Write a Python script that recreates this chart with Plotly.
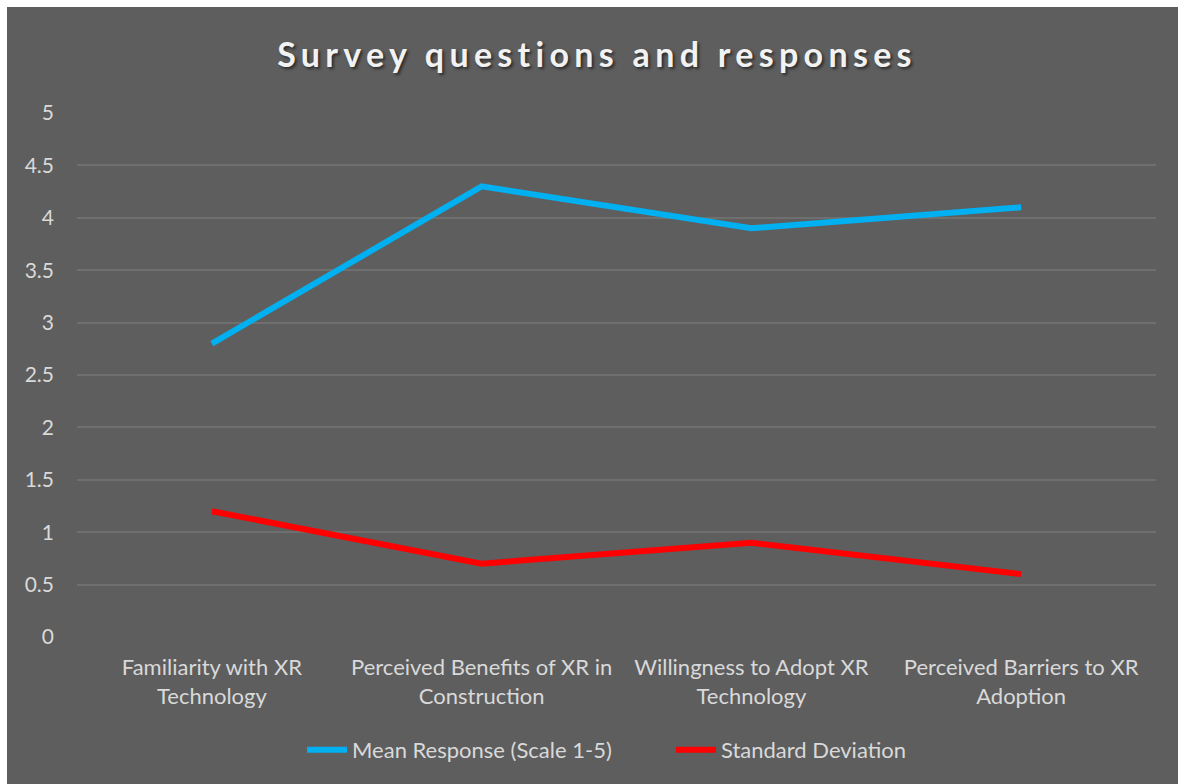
import plotly.graph_objects as go

categories = ["Familiarity with XR<br>Technology", "Perceived Benefits of XR in<br>Construction",
              "Willingness to Adopt XR<br>Technology", "Perceived Barriers to XR<br>Adoption"]
mean_response = [2.8, 4.3, 3.9, 4.1]
std_dev = [1.2, 0.7, 0.9, 0.6]
y_ticks = [0, 0.5, 1, 1.5, 2, 2.5, 3, 3.5, 4, 4.5, 5]

BG = "#5e5e5e"
TXT = "#d9d9d9"
FONT = "Lato, Open Sans, sans-serif"

fig = go.Figure()
fig.add_trace(go.Scatter(x=categories, y=mean_response, mode="lines", name="Mean Response (Scale 1-5)",
                         line=dict(color="#00b0f0", width=6)))
fig.add_trace(go.Scatter(x=categories, y=std_dev, mode="lines", name="Standard Deviation",
                         line=dict(color="#ff0000", width=6)))

W, H = 1178, 784
L, R, T, B = 77, 22, 113, 147
pw, ph = W - L - R, H - T - B
fig.add_shape(type="rect", xref="paper", yref="paper", layer="below",
              x0=(7 - L) / pw, x1=(W + 5 - L) / pw, y0=-(H + 5 - T - ph) / ph, y1=(H - B - 7) / ph,
              fillcolor=BG, line=dict(width=0))

fig.update_layout(
    width=W, height=H,
    margin=dict(l=L, r=R, t=T, b=B),
    paper_bgcolor="white", plot_bgcolor=BG,
    font=dict(family=FONT, color=TXT, size=22),
    title=dict(text='<span style="letter-spacing:5.3px">Survey questions and responses</span>',
               x=(597 - L) / pw, xref="paper", xanchor="center", y=(784 - 55) / 784, yanchor="middle",
               font=dict(size=34, color="#f2f2f2", weight="bold", family=FONT,
                         shadow="2px 2px 3px rgba(0,0,0,0.55)")),
    xaxis=dict(range=[-0.5, 3.5], showgrid=False, zeroline=False, showline=False,
               ticks="", tickfont=dict(size=22, color=TXT), ticklabelstandoff=15),
    yaxis=dict(range=[0, 5], tickvals=y_ticks, ticktext=[f"{v:g}" for v in y_ticks],
               showgrid=True, gridcolor="#6f6f6f", gridwidth=1.5, zeroline=False, showline=False,
               ticks="", tickfont=dict(size=21, color=TXT), ticklabelstandoff=22),
    legend=dict(orientation="h", x=(302 - L) / pw, xanchor="left", y=(637 - 750) / ph, yanchor="middle",
                bgcolor="rgba(0,0,0,0)", font=dict(size=22, color=TXT), itemwidth=40,
                entrywidth=314, entrywidthmode="pixels", traceorder="normal"),
    showlegend=True,
)

fig.write_html("out.html")
